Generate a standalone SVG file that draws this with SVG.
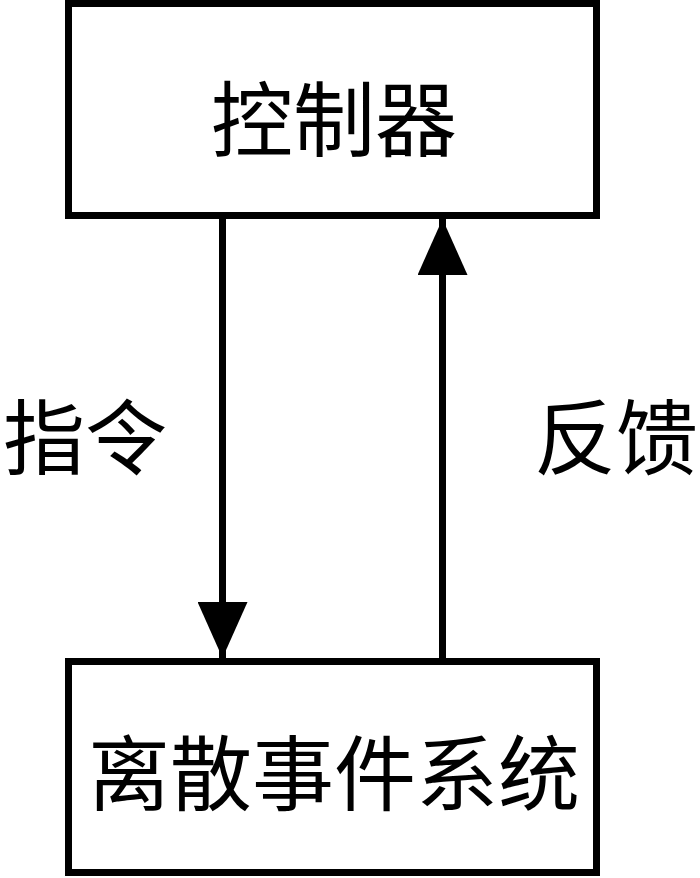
<svg xmlns="http://www.w3.org/2000/svg" width="700" height="878" viewBox="0 0 700 878">
<style>
.box{fill:#fff;stroke:#000;stroke-width:7}
.t{font-family:"Noto Sans CJK SC","Noto Sans CJK JP",sans-serif;font-size:82px;fill:#000;text-anchor:middle;dominant-baseline:central}
.c{stroke:#000;stroke-width:7;fill:none}
</style>
<defs>
<marker id="ah" markerUnits="userSpaceOnUse" viewBox="0 0 56 50" refX="56" refY="25" markerWidth="56" markerHeight="50" orient="auto">
<path d="M0,0 L56,25 L0,50 Z" fill="#000"/>
</marker>
</defs>
<rect width="700" height="878" fill="#fff"/>
<g id="controller">
<rect class="box" x="68.5" y="3.5" width="528" height="212"/>
<text class="t" x="334" y="114">控制器</text>
</g>
<g id="des">
<rect class="box" x="68.5" y="661.5" width="528" height="211"/>
<text class="t" x="334" y="768">离散事件系统</text>
</g>
<g id="connectors">
<line class="c" x1="222.5" y1="219" x2="222.5" y2="658" marker-end="url(#ah)"/>
<line class="c" x1="442.5" y1="658" x2="442.5" y2="219" marker-end="url(#ah)"/>
</g>
<g id="labels">
<text class="t" x="85" y="432">指令</text>
<text class="t" x="616" y="432">反馈</text>
</g>
</svg>
